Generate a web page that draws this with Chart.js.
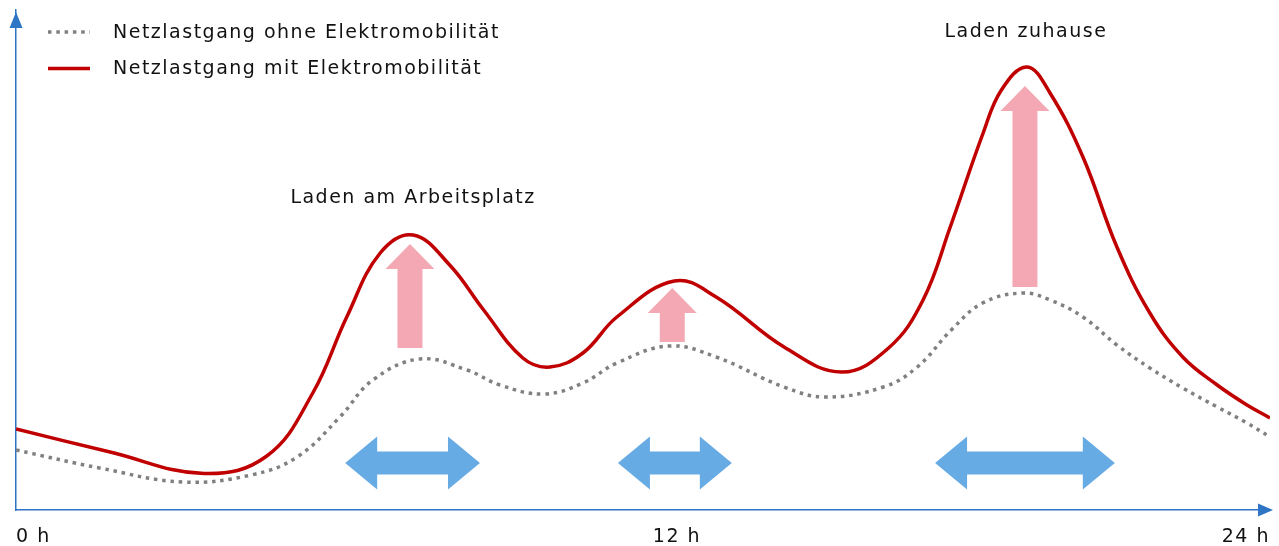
<!DOCTYPE html>
<html>
<head>
<meta charset="utf-8">
<script src="https://cdn.jsdelivr.net/npm/chart.js@4.4.1/dist/chart.umd.min.js"></script>
<style>
	html, body { margin: 0; padding: 0; background: #fff; }
	#wrap { width: 1279px; height: 546px; }
</style>
</head>
<body>
<div id="wrap"><canvas id="load-profile"></canvas></div>
<script>
// grid load without e-mobility (dotted grey)
const baseHours = [0, 1.6, 3.2, 4.5, 5.38, 6.2, 6.83, 7.73, 8.63, 9.26, 10.1, 10.85, 11.5, 12.5, 13.4, 14.7, 15.5, 16.6, 17.25, 17.9, 18.5, 19.27, 19.79, 20.42, 21.07, 21.7, 22.33, 22.99, 23.56, 24];
const baseLoad = [12, 8.4, 5.6, 7, 10.6, 18.6, 26, 30.2, 28, 25, 23.2, 25.4, 29.4, 32.8, 30.6, 24.6, 22.6, 24.6, 28.6, 36, 41.4, 43.4, 42, 38.6, 33, 28.4, 24.4, 20.6, 17.4, 14.6];

// grid load with e-mobility (red)
const evHours = [0, 1.8, 3.6, 4.8, 5.68, 6.33, 6.97, 7.6, 8.3, 8.95, 9.7, 10.22, 10.85, 11.5, 12.6, 13.4, 14.7, 15.8, 16.7, 17.36, 17.88, 18.51, 18.86, 19.35, 19.79, 20.42, 21.07, 21.7, 22.33, 22.99, 23.56, 24];
const evLoad = [16.2, 11.6, 7.3, 10.8, 23.4, 38.6, 51.4, 55, 49, 40, 30.4, 28.6, 31.4, 38.6, 45.8, 42.6, 32.6, 27.6, 32.4, 42, 56.6, 75.4, 84, 88.6, 83.4, 70.6, 52.6, 39.4, 30.6, 25, 21, 18.4];

const seriesNames = ["Netzlastgang ohne Elektromobilität", "Netzlastgang mit Elektromobilität"];

const tickHours = [0, 12.65, 24];
const tickLabels = ["0 h", "12 h", "24 h"];

// pink "extra load" arrows
const chargeHours = [7.54, 12.56, 19.31];
const chargeFrom = [32.4, 33.6, 44.6];
const chargeTo = [53.2, 44.4, 84.8];

// blue double arrows (flexible charging window)
const windowStart = [6.3, 11.52, 17.59];
const windowEnd = [8.88, 13.7, 21.03];
const windowLevel = 9.4;

const noteTexts = ["Laden am Arbeitsplatz", "Laden zuhause"];
const noteHours = [7.58, 19.31];
const noteLoad = [61.4, 94.6];

const FONT = "'DejaVu Sans', Verdana, sans-serif";
const SPACING = "1.5px";
const AXIS_BLUE = "#2e75c6";

const toPoints = (xs, ys) => xs.map((x, i) => ({ x: x, y: ys[i] }));

const sketchPlugin = {
	id: "sketch",
	beforeDraw(chart) {
		chart.ctx.letterSpacing = SPACING;
	},
	beforeDatasetsDraw(chart) {
		const { ctx, scales: { x, y } } = chart;
		ctx.save();
		// pink arrows
		ctx.fillStyle = "#f4a8b4";
		chargeHours.forEach((h, i) => {
			const cx = x.getPixelForValue(h);
			const bottom = y.getPixelForValue(chargeFrom[i]);
			const tip = y.getPixelForValue(chargeTo[i]);
			const base = tip + 25;
			ctx.beginPath();
			ctx.moveTo(cx - 12.5, bottom);
			ctx.lineTo(cx - 12.5, base);
			ctx.lineTo(cx - 24.5, base);
			ctx.lineTo(cx, tip);
			ctx.lineTo(cx + 24.5, base);
			ctx.lineTo(cx + 12.5, base);
			ctx.lineTo(cx + 12.5, bottom);
			ctx.closePath();
			ctx.fill();
		});
		// blue double arrows
		ctx.fillStyle = "#67abe5";
		const cy = y.getPixelForValue(windowLevel);
		windowStart.forEach((h, i) => {
			const x0 = x.getPixelForValue(h);
			const x1 = x.getPixelForValue(windowEnd[i]);
			ctx.beginPath();
			ctx.moveTo(x0, cy);
			ctx.lineTo(x0 + 32, cy - 26.5);
			ctx.lineTo(x0 + 32, cy - 11.5);
			ctx.lineTo(x1 - 32, cy - 11.5);
			ctx.lineTo(x1 - 32, cy - 26.5);
			ctx.lineTo(x1, cy);
			ctx.lineTo(x1 - 32, cy + 26.5);
			ctx.lineTo(x1 - 32, cy + 11.5);
			ctx.lineTo(x0 + 32, cy + 11.5);
			ctx.lineTo(x0 + 32, cy + 26.5);
			ctx.closePath();
			ctx.fill();
		});
		ctx.restore();
	},
	afterDraw(chart) {
		const { ctx, chartArea: area, scales: { x, y } } = chart;
		ctx.save();
		ctx.letterSpacing = SPACING;
		// axis arrow heads
		ctx.fillStyle = AXIS_BLUE;
		ctx.beginPath();
		ctx.moveTo(area.right + 3, area.bottom);
		ctx.lineTo(area.right - 12, area.bottom - 6.5);
		ctx.lineTo(area.right - 12, area.bottom + 6.5);
		ctx.closePath();
		ctx.fill();
		ctx.beginPath();
		ctx.moveTo(area.left, area.top + 2);
		ctx.lineTo(area.left - 6.5, area.top + 18);
		ctx.lineTo(area.left + 6.5, area.top + 18);
		ctx.closePath();
		ctx.fill();

		// notes
		ctx.fillStyle = "#111";
		ctx.font = "19px " + FONT;
		ctx.textAlign = "center";
		ctx.textBaseline = "alphabetic";
		noteTexts.forEach((t, i) => {
			ctx.fillText(t, x.getPixelForValue(noteHours[i]) + 1, y.getPixelForValue(noteLoad[i]));
		});

		// legend
		ctx.textAlign = "left";
		chart.data.datasets.forEach((ds, i) => {
			const rowY = 32 + i * 36.5;
			ctx.save();
			ctx.strokeStyle = ds.borderColor;
			ctx.lineWidth = ds.borderWidth;
			ctx.setLineDash(ds.borderDash || []);
			ctx.beginPath();
			ctx.moveTo(48, rowY);
			ctx.lineTo(90, rowY);
			ctx.stroke();
			ctx.restore();
			ctx.fillText(ds.label, 113, rowY + 5.5);
		});
		ctx.restore();
	},
};

new Chart(document.getElementById("load-profile"), {
	type: "line",
	data: {
		datasets: [
			{
				label: seriesNames[0],
				data: toPoints(baseHours, baseLoad),
				borderColor: "#808080",
				borderWidth: 3.5,
				borderDash: [3.5, 4.8],
				pointRadius: 0,
				tension: 0.4,
			},
			{
				label: seriesNames[1],
				data: toPoints(evHours, evLoad),
				borderColor: "#c00000",
				borderWidth: 3.5,
				pointRadius: 0,
				tension: 0.4,
			},
		],
	},
	options: {
		responsive: true,
		maintainAspectRatio: false,
		animation: false,
		layout: { padding: { left: 16, right: 9, top: 10, bottom: 0 } },
		plugins: {
			legend: { display: false },
			tooltip: { enabled: false },
		},
		scales: {
			x: {
				type: "linear",
				min: 0,
				max: 24,
				grid: { display: false, drawTicks: false },
				border: { color: AXIS_BLUE, width: 1.5 },
				afterBuildTicks: (scale) => {
					scale.ticks = tickHours.map((v) => ({ value: v }));
				},
				afterFit: (scale) => {
					scale.height = 36;
				},
				ticks: {
					padding: 0,
					align: "inner",
					maxRotation: 0,
					autoSkip: false,
					color: "#111",
					font: { family: FONT, size: 19, lineHeight: 2.89 },
					callback: (value, index) => tickLabels[index],
				},
			},
			y: {
				min: 0,
				max: 100,
				grid: { display: false, drawTicks: false },
				border: { color: AXIS_BLUE, width: 1.5 },
				ticks: { display: false },
			},
		},
	},
	plugins: [sketchPlugin],
});
</script>
</body>
</html>
